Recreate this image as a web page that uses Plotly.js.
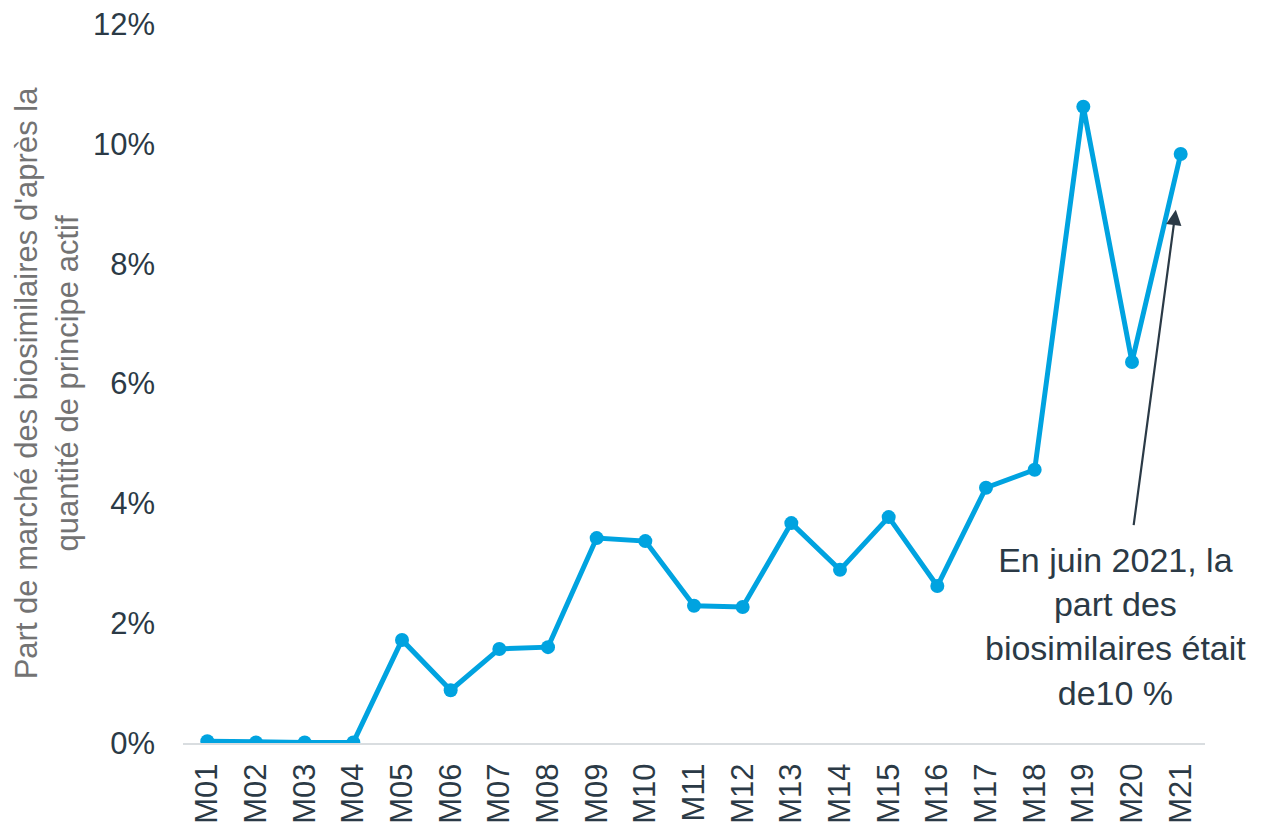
<!DOCTYPE html>
<html>
<head>
<meta charset="utf-8">
<script src="https://cdn.plot.ly/plotly-3.0.1.min.js"></script>
<style>html,body{margin:0;padding:0;background:#fff;}#chart{width:1263px;height:828px;}</style>
</head>
<body>
<div id="chart"></div>
<script>
const months = ["M01","M02","M03","M04","M05","M06","M07","M08","M09","M10","M11","M12","M13","M14","M15","M16","M17","M18","M19","M20","M21"];
const share = [0.0003,0.0001,0.0001,0.0001,0.0172,0.0088,0.0157,0.0160,0.0342,0.0337,0.0229,0.0227,0.0367,0.0289,0.0377,0.0262,0.0426,0.0456,0.1062,0.0636,0.0983];
const yTickVals = [0,0.02,0.04,0.06,0.08,0.10,0.12];
const yTickText = ["0%","2%","4%","6%","8%","10%","12%"];
const yTitle = "Part de marché des biosimilaires d'après la<br>quantité de principe actif";
const noteText = "En juin 2021, la<br>part des<br>biosimilaires était<br>de10 %";

const textColor = "#2b3a46";
const trace = {
  x: months, y: share, type: "scatter", mode: "lines+markers",
  line: {color: "#00a3e0", width: 5},
  marker: {color: "#00a3e0", size: 14},
  hoverinfo: "skip"
};
const layout = {
  width: 1263, height: 828,
  margin: {l: 183, r: 58, t: 24, b: 85},
  paper_bgcolor: "#fff", plot_bgcolor: "#fff",
  showlegend: false,
  font: {family: "Liberation Sans, Arial, sans-serif", color: textColor},
  xaxis: {
    type: "category", range: [-0.5, 20.5],
    tickangle: -90, tickfont: {size: 31, color: textColor},
    showgrid: false, zeroline: false,
    showline: true, linecolor: "#d9dde0", linewidth: 2,
    ticks: "", ticklabelstandoff: 6
  },
  yaxis: {
    range: [0, 0.12], tickvals: yTickVals, ticktext: yTickText,
    tickfont: {size: 31, color: textColor},
    showgrid: false, zeroline: false, showline: false,
    ticks: "", ticklabelstandoff: 27,
    title: {text: yTitle, font: {size: 31, color: "#737373"}, standoff: 5}
  },
  annotations: [
    {
      x: 19.9, y: 0.089, xref: "x", yref: "y",
      ax: 19.03, ay: 0.0361, axref: "x", ayref: "y",
      text: "", showarrow: true, arrowhead: 2, arrowsize: 1.4, arrowwidth: 2.2,
      arrowcolor: textColor
    },
    {
      x: 18.67, y: 0.0194, xref: "x", yref: "y",
      text: noteText, showarrow: false, align: "center",
      font: {size: 34, color: textColor}
    }
  ]
};
Plotly.newPlot("chart", [trace], layout, {displayModeBar: false, staticPlot: true});
</script>
</body>
</html>
